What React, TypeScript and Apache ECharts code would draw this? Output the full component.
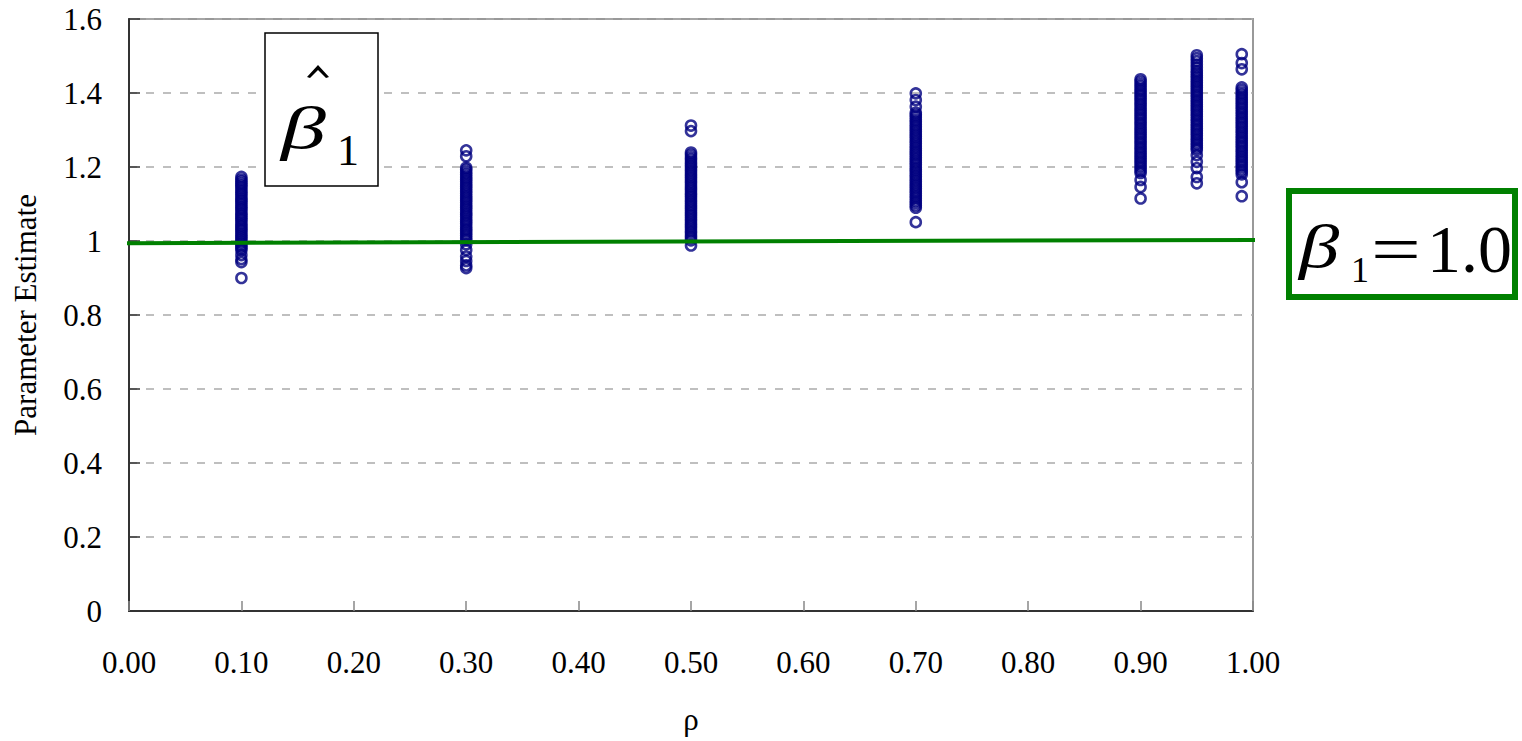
import React, { useEffect, useRef } from "react";
import * as echarts from "echarts";

const rhoLevels = [0.1, 0.3, 0.5, 0.7, 0.9, 0.95, 0.99];

const est010 = [0.900, 0.943, 0.951, 0.962, 0.975, 0.981, 0.986, 0.992, 0.997, 1.003, 1.009, 1.014, 1.020, 1.027, 1.032, 1.038, 1.043, 1.049, 1.056, 1.061, 1.067, 1.072, 1.078, 1.085, 1.090, 1.096, 1.102, 1.108, 1.113, 1.119, 1.126, 1.131, 1.137, 1.144, 1.150, 1.155, 1.161, 1.166, 1.173];
const est030 = [0.927, 0.934, 0.946, 0.958, 0.976, 0.991, 1.002, 1.008, 1.015, 1.021, 1.028, 1.033, 1.040, 1.047, 1.053, 1.059, 1.066, 1.072, 1.078, 1.085, 1.091, 1.097, 1.104, 1.110, 1.116, 1.122, 1.129, 1.135, 1.142, 1.148, 1.154, 1.161, 1.167, 1.173, 1.180, 1.186, 1.193, 1.198, 1.229, 1.245];
const est050 = [0.988, 1.002, 1.009, 1.015, 1.022, 1.028, 1.035, 1.041, 1.047, 1.054, 1.060, 1.067, 1.073, 1.079, 1.086, 1.092, 1.098, 1.105, 1.111, 1.118, 1.124, 1.130, 1.137, 1.143, 1.149, 1.156, 1.162, 1.169, 1.175, 1.181, 1.188, 1.194, 1.201, 1.207, 1.213, 1.220, 1.226, 1.233, 1.239, 1.297, 1.312];
const est070 = [1.051, 1.090, 1.096, 1.103, 1.109, 1.116, 1.122, 1.129, 1.135, 1.142, 1.148, 1.154, 1.161, 1.167, 1.174, 1.180, 1.187, 1.193, 1.199, 1.206, 1.212, 1.219, 1.225, 1.232, 1.238, 1.244, 1.251, 1.257, 1.264, 1.270, 1.277, 1.283, 1.289, 1.296, 1.302, 1.309, 1.315, 1.322, 1.328, 1.335, 1.341, 1.347, 1.363, 1.381, 1.399];
const est090 = [1.115, 1.146, 1.165, 1.184, 1.190, 1.197, 1.203, 1.210, 1.216, 1.223, 1.229, 1.236, 1.242, 1.249, 1.255, 1.262, 1.268, 1.275, 1.281, 1.288, 1.294, 1.301, 1.307, 1.314, 1.320, 1.327, 1.333, 1.340, 1.346, 1.353, 1.359, 1.366, 1.372, 1.379, 1.385, 1.392, 1.398, 1.405, 1.411, 1.418, 1.424, 1.431, 1.437];
const est095 = [1.156, 1.173, 1.197, 1.214, 1.232, 1.246, 1.252, 1.259, 1.265, 1.272, 1.278, 1.285, 1.291, 1.298, 1.304, 1.311, 1.317, 1.324, 1.330, 1.337, 1.343, 1.350, 1.356, 1.363, 1.369, 1.376, 1.382, 1.389, 1.395, 1.402, 1.408, 1.415, 1.421, 1.428, 1.434, 1.441, 1.447, 1.454, 1.460, 1.469, 1.477, 1.486, 1.494, 1.502];
const est099 = [1.121, 1.159, 1.180, 1.187, 1.193, 1.200, 1.206, 1.213, 1.219, 1.226, 1.232, 1.239, 1.245, 1.252, 1.258, 1.265, 1.271, 1.278, 1.284, 1.291, 1.297, 1.304, 1.310, 1.317, 1.323, 1.330, 1.336, 1.343, 1.349, 1.356, 1.362, 1.369, 1.375, 1.382, 1.388, 1.395, 1.401, 1.408, 1.415, 1.464, 1.481, 1.505];

const estimates = [est010, est030, est050, est070, est090, est095, est099];

// true-value reference line (drawn slightly beyond the axes as in the original)
const trueLineX = [-0.008, 1.011];
const trueLineY = [0.994, 1.003];

const xTicks = [0, 0.1, 0.2, 0.3, 0.4, 0.5, 0.6, 0.7, 0.8, 0.9, 1.0];

const SERIF = '"Liberation Serif", "Times New Roman", serif';

function txt(text: string, x: number, y: number, size: number, italic = false, scaleX = 1) {
  return {
    type: "text",
    x,
    y,
    scaleX,
    z: 11,
    style: {
      text,
      fontFamily: "Liberation Serif",
      fontSize: size,
      fontStyle: italic ? "italic" : "normal",
      fill: "#000",
      verticalAlign: "middle",
      align: "left",
    },
  };
}

export default function App() {
  const ref = useRef<HTMLDivElement>(null);
  useEffect(() => {
    if (!ref.current) return;
    const chart = echarts.init(ref.current, undefined, { renderer: "svg" });
    const scatterData: number[][] = [];
    rhoLevels.forEach((r, i) => estimates[i].forEach((v) => scatterData.push([r, v])));
    const lineData = trueLineX.map((x, i) => [x, trueLineY[i]]);

    chart.setOption({
      animation: false,
      backgroundColor: "#fff",
      textStyle: { fontFamily: SERIF },
      grid: {
        left: 129,
        right: 269,
        top: 19,
        bottom: 130,
        show: true,
        borderColor: "#999",
        borderWidth: 2,
        backgroundColor: "transparent",
      },
      xAxis: {
        type: "value",
        min: xTicks[0],
        max: xTicks[xTicks.length - 1],
        interval: 0.1,
        name: "ρ",
        nameLocation: "middle",
        nameGap: 93,
        nameTextStyle: { fontFamily: SERIF, fontSize: 31, color: "#000" },
        axisLine: { show: true, lineStyle: { color: "#333", width: 2 } },
        axisTick: { show: true, inside: true, length: 10, lineStyle: { color: "#888", width: 1.5 } },
        axisLabel: {
          margin: 36,
          fontFamily: SERIF,
          fontSize: 31,
          color: "#000",
          formatter: (v: number) => v.toFixed(2),
        },
        splitLine: { show: false },
      },
      yAxis: {
        type: "value",
        min: 0,
        max: 1.6,
        interval: 0.2,
        name: "Parameter Estimate",
        nameLocation: "middle",
        nameGap: 88,
        nameTextStyle: { fontFamily: SERIF, fontSize: 31, color: "#000" },
        axisLine: { show: true, lineStyle: { color: "#333", width: 2 } },
        axisTick: { show: true, inside: true, length: 11, lineStyle: { color: "#333", width: 1.5 } },
        axisLabel: {
          margin: 27,
          fontFamily: SERIF,
          fontSize: 31,
          color: "#000",
        },
        splitLine: { show: true, lineStyle: { color: "#aaa", width: 1.5, type: [8, 9] } },
      },
      series: [
        {
          type: "scatter",
          data: scatterData,
          symbol: "circle",
          symbolSize: 10,
          itemStyle: { color: "rgba(0,0,0,0)", borderColor: "#000080", borderWidth: 2.6 },
          z: 3,
        },
        {
          type: "line",
          data: lineData,
          clip: false,
          symbol: "none",
          lineStyle: { color: "#008000", width: 4 },
          z: 5,
        },
      ],
      graphic: [
        {
          type: "rect",
          shape: { x: 265, y: 33, width: 113, height: 153 },
          style: { fill: "#fff", stroke: "#000", lineWidth: 1.5 },
          z: 10,
        },
        txt("β", 281, 128, 60, true, 1.5),
        {
          type: "polygon",
          shape: { points: [[307, 77], [318, 65], [329, 77], [326, 78], [318, 70], [310, 78]] },
          style: { fill: "#000" },
          z: 11,
        },
        txt("1", 337, 150, 44),
        {
          type: "rect",
          shape: { x: 1289, y: 191, width: 226, height: 106 },
          style: { fill: "#fff", stroke: "#008000", lineWidth: 6 },
          z: 10,
        },
        txt("β", 1299, 246, 62, true, 1.3),
        txt("1", 1351, 270, 36),
        txt("=", 1371, 249, 68, false, 1.3),
        txt("1.0", 1427, 249, 68),
      ],
    });
    return () => chart.dispose();
  }, []);
  return (
    <div
      ref={ref}
      style={{ position: "absolute", left: 0, top: 0, width: 1522, height: 741 }}
    />
  );
}
